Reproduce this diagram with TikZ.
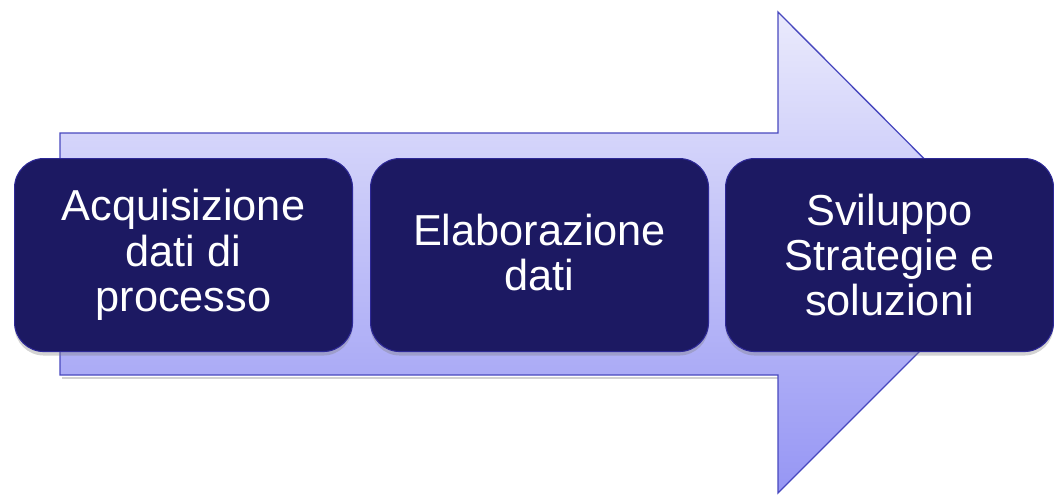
\documentclass[tikz,border=0pt]{standalone}
\usepackage{fontspec}
\setmainfont{Liberation Sans}
\usetikzlibrary{shadows}
\definecolor{navy}{RGB}{28,25,98}
\definecolor{navyedge}{RGB}{45,40,150}
\definecolor{arrowtop}{RGB}{234,234,252}
\definecolor{arrowbot}{RGB}{150,150,244}
\definecolor{arrowedge}{RGB}{72,72,190}
\tikzset{
  stepbox/.style={draw=navyedge, line width=0.8pt, fill=navy, rounded corners=22pt,
    text=white, align=center, anchor=north west, inner sep=0pt,
    font=\fontsize{32.5}{34}\selectfont,
    drop shadow={opacity=0.35, shadow xshift=0pt, shadow yshift=-3pt}},
  bigarrow/.style={draw=arrowedge, line width=1pt, top color=arrowtop, bottom color=arrowbot}
}
\begin{document}
\begin{tikzpicture}[x=0.75pt,y=-0.75pt]
\useasboundingbox (0,0) rectangle (1054,494);
% big arrow
\fill[black, opacity=0.18] (62,377) rectangle (780,379);
\draw[bigarrow] (60,133) -- (778,133) -- (778,12) -- (1018,253) -- (778,493) -- (778,375) -- (60,375) -- cycle;
% boxes
\node[stepbox, minimum width=253.5pt, minimum height=144.75pt] (b1) at (14,158) {};
\node[stepbox, minimum width=253.5pt, minimum height=144.75pt] (b2) at (370,158) {};
\node[stepbox, minimum width=246pt, minimum height=144.75pt] (b3) at (725,158) {};
\node[text=white, align=center, font=\fontsize{32.5}{34}\selectfont] (t1) at (b1.center) {Acquisizione\\dati di\\processo};
\node[text=white, align=center, font=\fontsize{32.5}{34}\selectfont] (t2) at ([yshift=2pt]b2.center) {Elaborazione\\dati};
\node[text=white, align=center, font=\fontsize{32.5}{34}\selectfont] (t3) at (b3.center) {Sviluppo\\Strategie e\\soluzioni};
\end{tikzpicture}
\end{document}
